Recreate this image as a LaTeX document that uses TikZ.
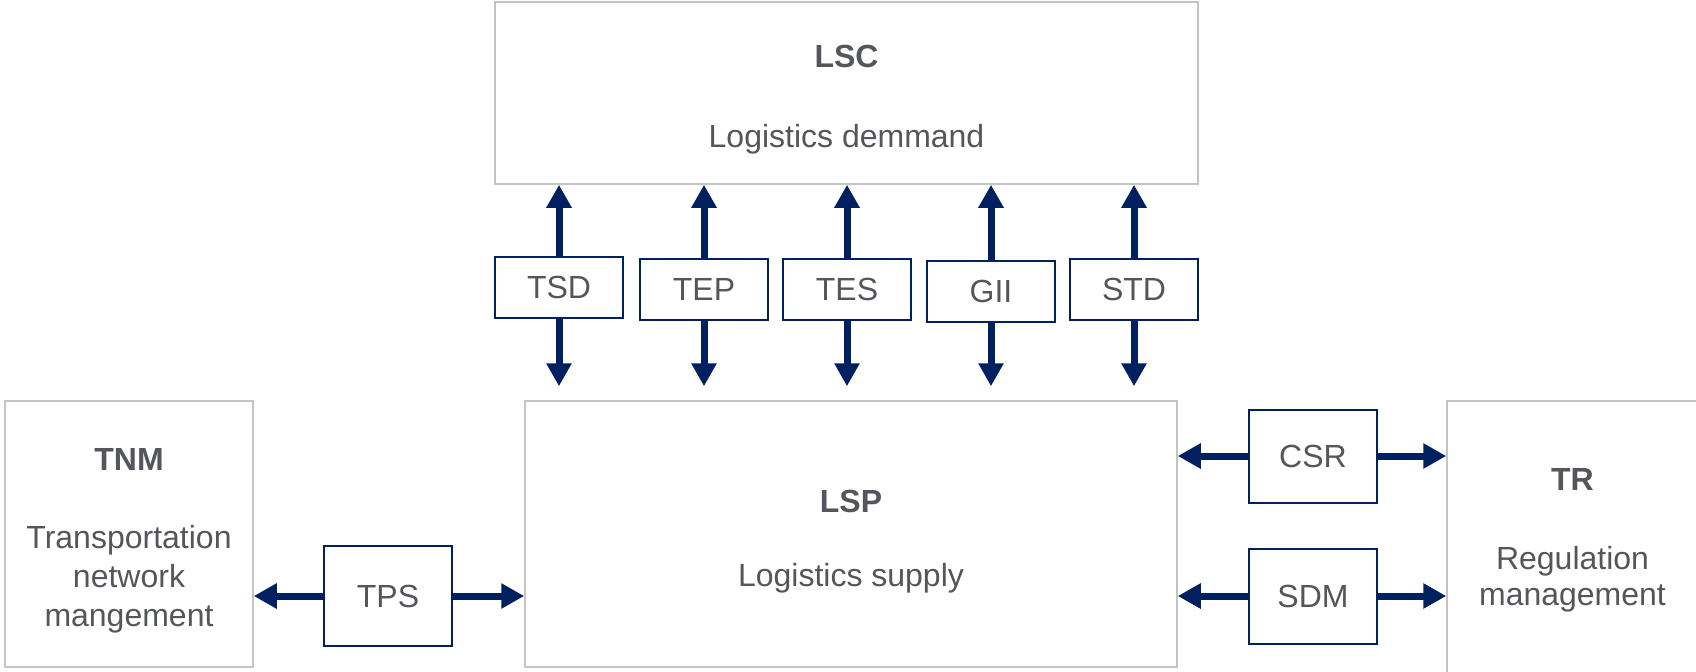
\documentclass[tikz,border=0pt]{standalone}
\usepackage{fontspec}
\setmainfont{Liberation Sans}
\usetikzlibrary{arrows.meta}
\definecolor{navy}{HTML}{002060}
\definecolor{boxgray}{HTML}{C4C4C4}
\definecolor{txtgray}{HTML}{54565B}
\tikzset{
  bigbox/.style={draw=boxgray, line width=0.75pt, rectangle},
  flowbox/.style={draw=navy, line width=1pt, rectangle, fill=white, minimum width=64pt},
  biarrow/.style={navy, line width=3.5pt, -{Triangle[width=12pt,length=11.5pt]}},
  lbl/.style={text=txtgray, font=\fontsize{16}{19.5}\selectfont, inner sep=0pt, align=center}
}
\begin{document}
\begin{tikzpicture}[x=0.5pt, y=-0.5pt]
    \useasboundingbox (0,0) rectangle (1696,671);
    % Logistics demand side
    \node[bigbox, minimum width=351.5pt, minimum height=91pt] (lsc) at (846.5,93) {};
    \node[lbl] (lsct) at (846.5,56) {\textbf{LSC}};
    \node[lbl] (lscs) at (846.5,139) {Logistics demmand};
    % Logistics supply side
    \node[bigbox, minimum width=326pt, minimum height=133pt] (lsp) at (851,534) {};
    \node[lbl] (lspt) at (851,501) {\textbf{LSP}};
    \node[lbl] (lsps) at (851,578) {Logistics supply};
    % Transportation network
    \node[bigbox, minimum width=124pt, minimum height=133pt] (tnm) at (129,534) {};
    \node[lbl] (tnmt) at (129,459) {\textbf{TNM}};
    \node[lbl] (tnms) at (129,579) {Transportation\\network\\mangement};
    % Regulation
    \node[bigbox, minimum width=125.5pt, minimum height=136pt] (tr) at (1572.5,537) {};
    \node[lbl] (trt) at (1572.5,479) {\textbf{TR}};
    \node[lbl, font=\fontsize{16}{18}\selectfont] (trs) at (1572.5,579) {Regulation\\management};

    % Interfaces between LSC and LSP
    \node[flowbox, minimum height=30.5pt, lbl] (tsd) at (559,287) {TSD};
    \node[flowbox, minimum height=30.5pt, lbl] (tep) at (704,289) {TEP};
    \node[flowbox, minimum height=30.5pt, lbl] (tes) at (847,289) {TES};
    \node[flowbox, minimum height=30.5pt, lbl] (gii) at (991,291) {GII};
    \node[flowbox, minimum height=30.5pt, lbl] (std) at (1134,289) {STD};
    \foreach \n in {tsd,tep,tes,gii,std} {
        \draw[biarrow] (\n.north) -- (\n.north |- lsc.south);
        \draw[biarrow, shorten >=7pt] (\n.south) -- (\n.south |- lsp.north);
    }

    % Side interfaces
    \node[flowbox, minimum height=50pt, lbl] (tps) at (388,596) {TPS};
    \node[flowbox, minimum height=46.5pt, lbl] (csr) at (1313,456) {CSR};
    \node[flowbox, minimum height=47.5pt, lbl] (sdm) at (1313,596) {SDM};

    \draw[biarrow] (tps.west) -- (tps.west -| tnm.east);
    \draw[biarrow] (tps.east) -- (tps.east -| lsp.west);
    \draw[biarrow] (csr.west) -- (csr.west -| lsp.east);
    \draw[biarrow] (csr.east) -- (csr.east -| tr.west);
    \draw[biarrow] (sdm.west) -- (sdm.west -| lsp.east);
    \draw[biarrow] (sdm.east) -- (sdm.east -| tr.west);
\end{tikzpicture}
\end{document}
